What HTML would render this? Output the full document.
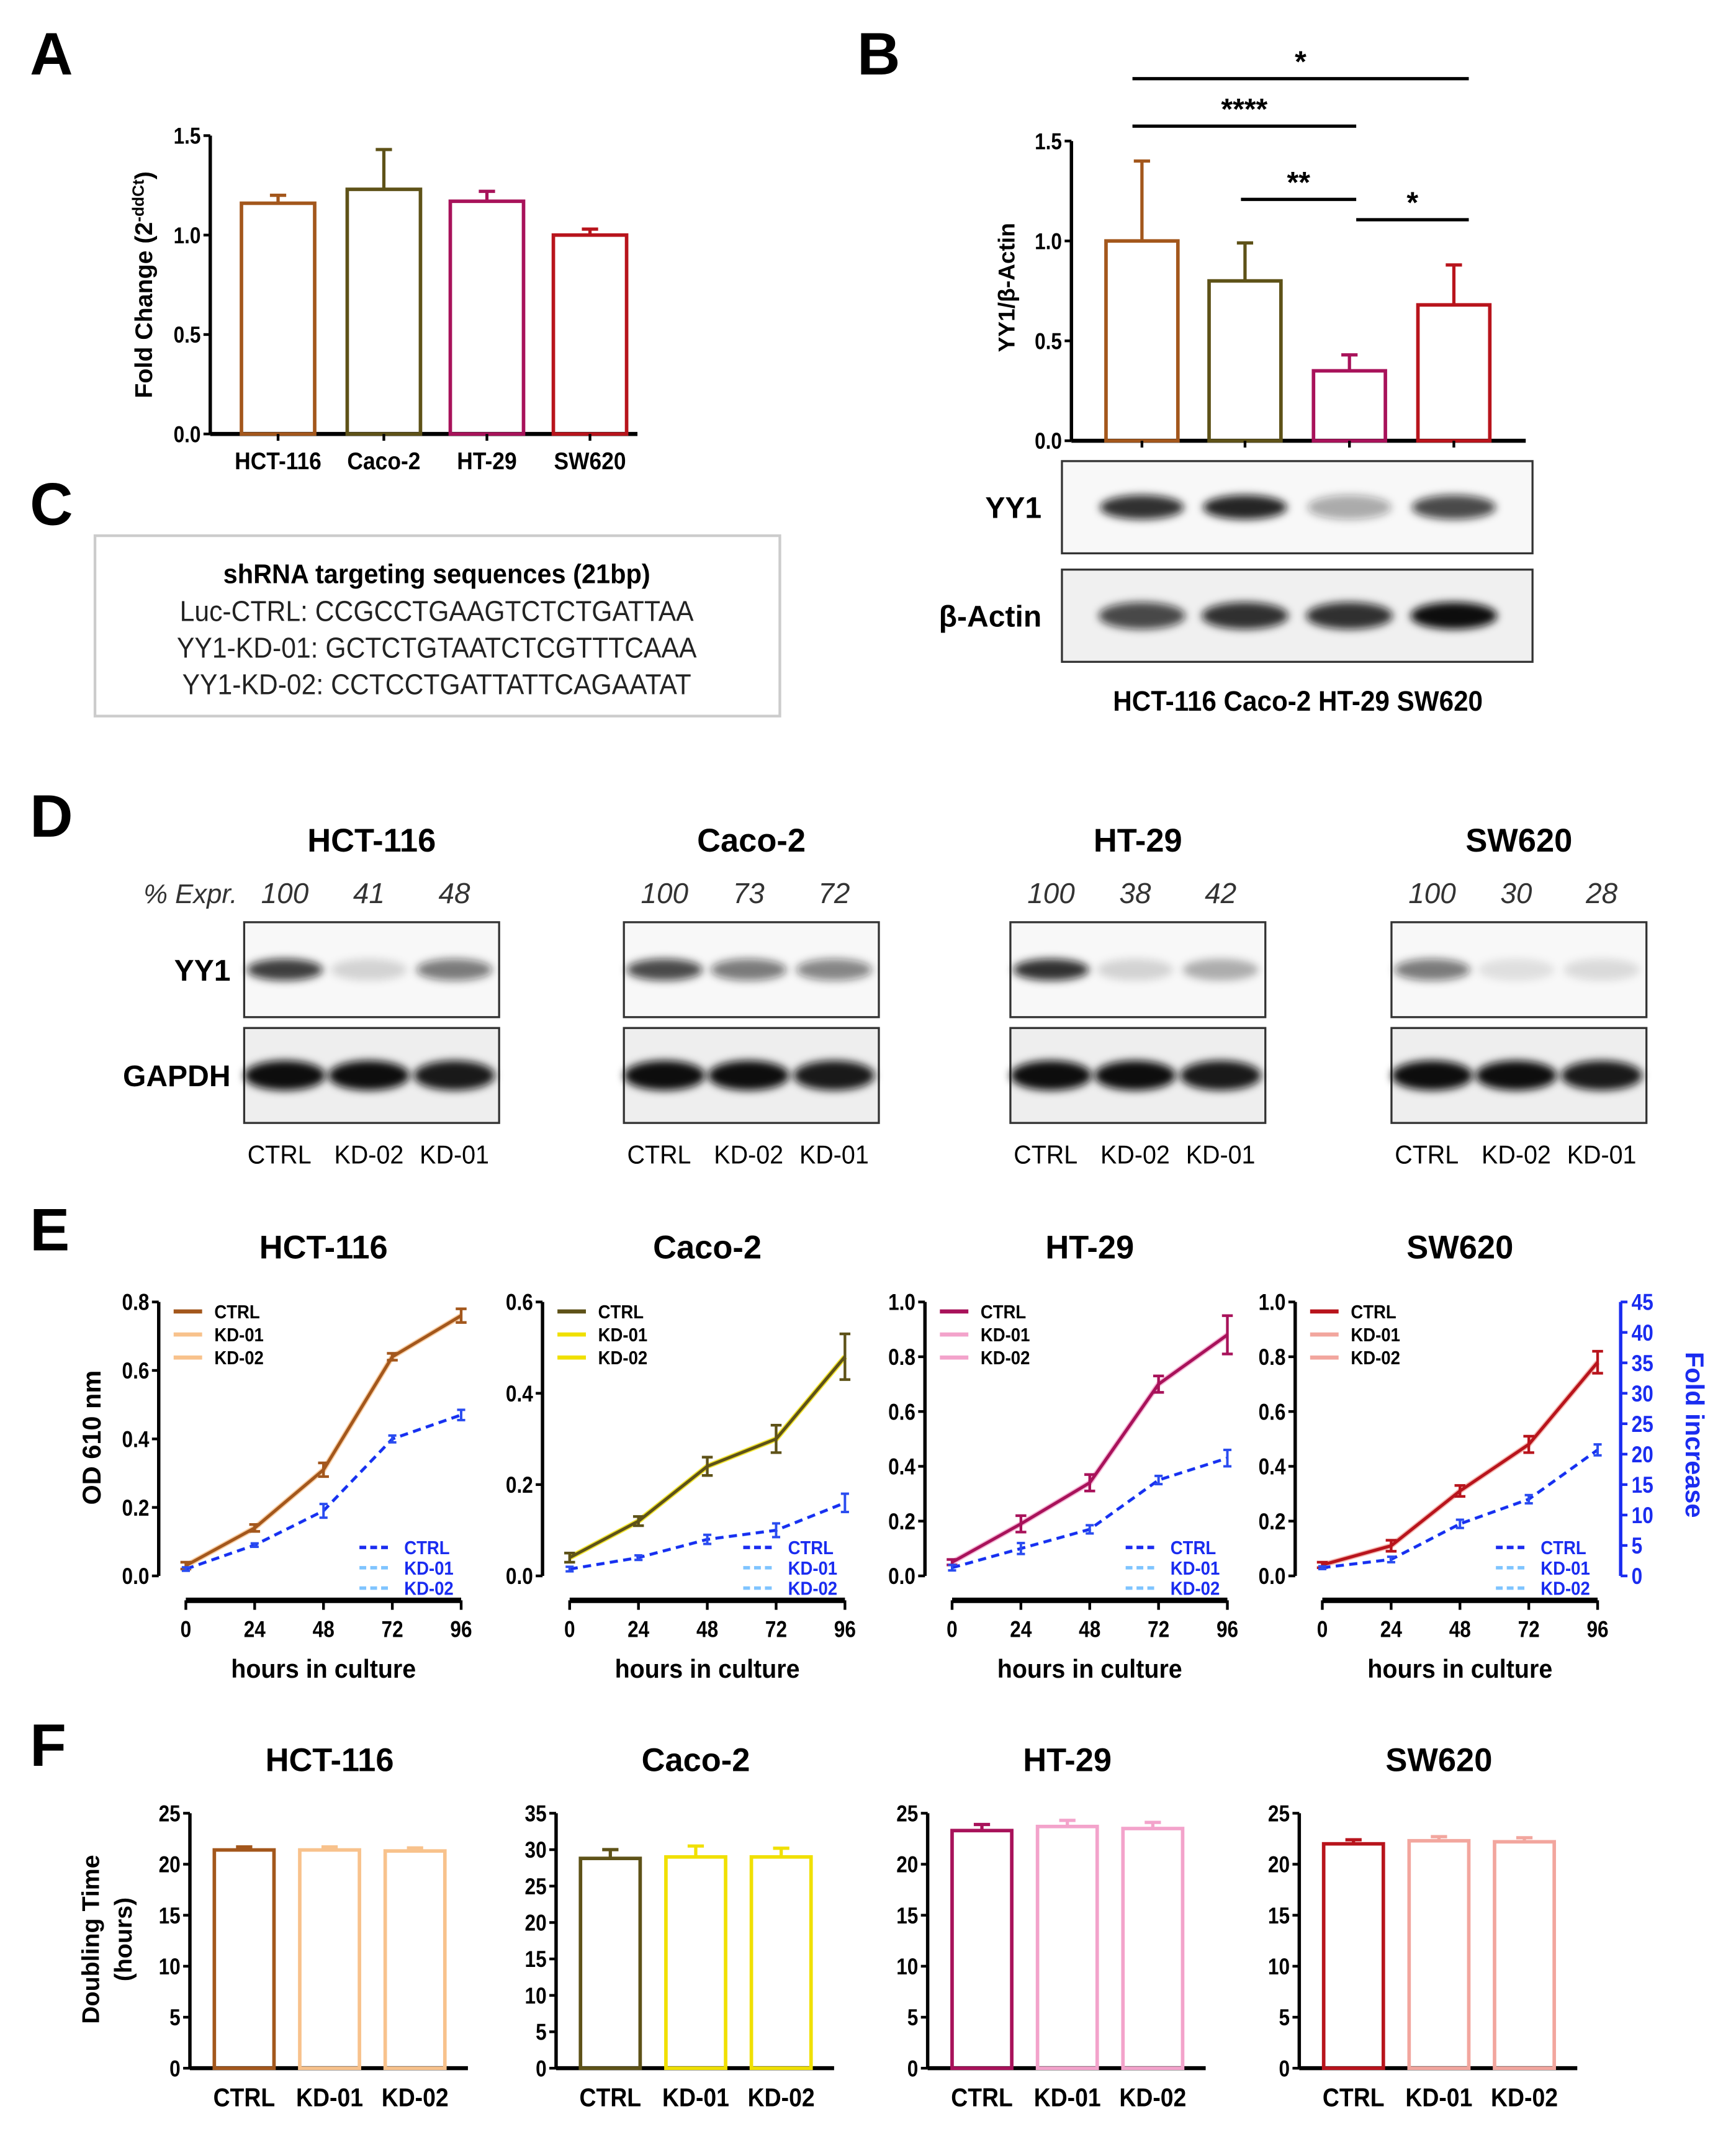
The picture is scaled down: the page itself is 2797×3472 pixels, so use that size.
<!DOCTYPE html>
<html><head><meta charset="utf-8"><style>
html,body{margin:0;padding:0;background:#fff}
svg{display:block}
text{font-family:"Liberation Sans",sans-serif}
</style></head><body>
<svg id="fig" width="2797" height="3472" viewBox="0 0 1280 1589" xmlns="http://www.w3.org/2000/svg">
<defs>
<filter id="blur" x="-20%" y="-60%" width="140%" height="220%"><feGaussianBlur stdDeviation="3"/></filter>
</defs>
<g id="root"></g>
</svg>
<script>
// ---------- data ----------
const cellLines = ["HCT-116","Caco-2","HT-29","SW620"];
const aValues = [1.16,1.23,1.17,1.00];
const aErrors = [0.04,0.20,0.05,0.03];
const bValues = [1.00,0.80,0.35,0.68];
const bErrors = [0.40,0.19,0.08,0.20];
const aTicks = [0,0.5,1.0,1.5];
const bYY1 = [0.85,0.9,0.35,0.75];
const bActin = [0.75,0.85,0.85,1.0];
const dExpr = [[100,41,48],[100,73,72],[100,38,42],[100,30,28]];
const dLanes = ["CTRL","KD-02","KD-01"];
const hours = [0,24,48,72,96];
const eCtrl = [[0.03,0.14,0.31,0.64,0.76],[0.04,0.12,0.24,0.30,0.48],[0.05,0.19,0.34,0.70,0.88],[0.04,0.11,0.31,0.48,0.78]];
const eCtrlErr = [[0.01,0.01,0.02,0.01,0.02],[0.01,0.01,0.02,0.03,0.05],[0.01,0.03,0.03,0.03,0.07],[0.01,0.02,0.02,0.03,0.04]];
const eKD = [[0.02,0.09,0.19,0.40,0.47],[0.015,0.04,0.08,0.10,0.16],[0.03,0.10,0.17,0.35,0.43],[0.03,0.06,0.19,0.28,0.46]];
const eKDErr = [[0.005,0.005,0.02,0.01,0.015],[0.005,0.005,0.01,0.015,0.02],[0.01,0.02,0.015,0.015,0.03],[0.005,0.01,0.015,0.015,0.02]];
const eYMax = [0.8,0.6,1.0,1.0];
const eTicks = [[0,0.2,0.4,0.6,0.8],[0,0.2,0.4,0.6],[0,0.2,0.4,0.6,0.8,1.0],[0,0.2,0.4,0.6,0.8,1.0]];
const foldTicks = [0,5,10,15,20,25,30,35,40,45];
const fValues = [[21.4,21.4,21.3],[28.8,29.0,29.0],[23.3,23.7,23.5],[22.0,22.3,22.2]];
const fErrors = [[0.3,0.3,0.3],[1.2,1.5,1.2],[0.6,0.6,0.6],[0.4,0.4,0.4]];
const fYMax = [25,35,25,25];
const fTicks = [[0,5,10,15,20,25],[0,5,10,15,20,25,30,35],[0,5,10,15,20,25],[0,5,10,15,20,25]];
const fLabels = ["CTRL","KD-01","KD-02"];

const dark = ["#a3571c","#5e5218","#a8125a","#b8141c"];
const light = ["#f8c28c","#f0e000","#f3a3cb","#f2a69e"];

const NS="http://www.w3.org/2000/svg";
const root=document.getElementById('root');
function el(tag,attrs,parent,txt){const e=document.createElementNS(NS,tag);for(const k in attrs)e.setAttribute(k,attrs[k]);if(txt!==undefined)e.textContent=txt;(parent||root).appendChild(e);return e;}
function T(x,y,s,size,opts,parent){opts=opts||{};const t=el('text',{x:x,y:y,'font-size':size,'font-weight':opts.w||'bold','text-anchor':opts.a||'middle',fill:opts.fill||'#000','font-style':opts.i?'italic':'normal'},parent,s);if(opts.rot)t.setAttribute('transform',`rotate(-90 ${x} ${y})`);if(opts.sx)t.setAttribute('transform',`translate(${x} ${y}) scale(${opts.sx} 1) translate(${-x} ${-y})`);return t;}
function fmt(v,d){return v.toFixed(d);}

[["A",22,55],["B",632,55],["C",22,387],["D",22,617],["E",22,922],["F",22,1302]].forEach(p=>{
 const t=T(p[1],p[2],p[0],44,{a:'start'});
 
 
});

function barChart(g,cfg){
 const ys=v=>cfg.y0-(v/cfg.ymax)*(cfg.y0-cfg.y1);
 el('line',{x1:cfg.ax,y1:cfg.y1,x2:cfg.ax,y2:cfg.y0,stroke:'#000','stroke-width':2.5},g);
 el('line',{x1:cfg.ax,y1:cfg.y0,x2:cfg.xend,y2:cfg.y0,stroke:'#000','stroke-width':3},g);
 cfg.ticks.forEach(tv=>{const y=ys(tv);el('line',{x1:cfg.ax-5,y1:y,x2:cfg.ax,y2:y,stroke:'#000','stroke-width':2},g);
   T(cfg.ax-7,y+6,cfg.dec===0?String(tv):fmt(tv,cfg.dec),cfg.tfs||17,{a:'end',sx:0.85},g);});
 cfg.values.forEach((v,i)=>{
   const cx=cfg.cx[i],w=cfg.bw,col=cfg.colors[i];
   const bar=el('rect',{x:cx-w/2,y:ys(v),width:w,height:cfg.y0-ys(v),fill:'none',stroke:col,'stroke-width':2.6},g);
   
   
   const ye=ys(v+cfg.err[i]);
   el('line',{x1:cx,y1:ys(v),x2:cx,y2:ye,stroke:col,'stroke-width':2.4},g);
   el('line',{x1:cx-6,y1:ye,x2:cx+6,y2:ye,stroke:col,'stroke-width':2.4},g);
   if(cfg.xticks) el('line',{x1:cx,y1:cfg.y0,x2:cx,y2:cfg.y0+5,stroke:'#000','stroke-width':2},g);
   if(cfg.labels) T(cx,cfg.ly,cfg.labels[i],cfg.lfs||18,{sx:0.9},g);
 });
 return ys;
}

// Panel A
const gA=el('g',{});
barChart(gA,{ax:155,y0:320,y1:100,ymax:1.5,xend:470,ticks:aTicks,dec:1,values:aValues,err:aErrors,cx:[205,283,359,435],bw:54,colors:dark,labels:cellLines,ly:346,lfs:18,xticks:true});
{const t=T(112,210,"Fold Change (2",18,{rot:true},gA);
 el('tspan',{'font-size':12,dy:-6},t,"-ddCt");el('tspan',{dy:6,'font-size':18},t,")");}

// Panel B
const gB=el('g',{});
barChart(gB,{ax:790,y0:325,y1:104,ymax:1.5,xend:1125,ticks:aTicks,dec:1,values:bValues,err:bErrors,cx:[842,918,995,1072],bw:53,colors:dark,xticks:true});
{const t=T(748,212,"YY1/β-Actin",17,{rot:true},gB);}
[[835,1083,58,"*"],[835,1000,93,"****"],[915,1000,147,"**"],[1000,1083,162,"*"]].forEach((s,i)=>{
 el('line',{x1:s[0],y1:s[2],x2:s[1],y2:s[2],stroke:'#000','stroke-width':2.4},gB);
 const t=T((s[0]+s[1])/2,s[2]-5,s[3],22,{},gB);
});
function blot(g,x,y,w,h,centers,intens,bw,bh,name,label,lx,lfs,bgc){
 const b=el('g',{},g);
 el('rect',{x:x,y:y,width:w,height:h,fill:bgc||'#f8f8f8',stroke:'#333','stroke-width':1.5},b);
 centers.forEach((c,i)=>{const a=intens[i];
  el('ellipse',{cx:c,cy:y+h/2,rx:bw/2,ry:bh/2,fill:'#111','fill-opacity':a,filter:'url(#blur)'},b);});
 if(label) T(lx,y+h/2+8,label,lfs,{a:'end'},g);
}
blot(gB,783,340,347,68,[842,918,995,1072],bYY1,62,18,'blot-yy1',"YY1",768,22);
blot(gB,783,420,347,68,[842,918,995,1072],bActin,64,20,'blot-beta-actin',"β-Actin",768,22,'#f0f0f0');
{const t=T(957,524,"HCT-116 Caco-2 HT-29 SW620",21,{sx:0.92},gB);}

// Panel C
const gC=el('g',{});
el('rect',{x:70,y:395,width:505,height:133,fill:'#fff',stroke:'#ccc','stroke-width':2},gC);
T(322,430,"shRNA targeting sequences (21bp)",20,{sx:0.95},gC);
T(322,458,"Luc-CTRL: CCGCCTGAAGTCTCTGATTAA",21,{w:'normal',fill:'#222',sx:0.93},gC);
T(322,485,"YY1-KD-01: GCTCTGTAATCTCGTTTCAAA",21,{w:'normal',fill:'#222',sx:0.93},gC);
T(322,512,"YY1-KD-02: CCTCCTGATTATTCAGAATAT",21,{w:'normal',fill:'#222',sx:0.93},gC);

// Panel D
const dBox=[180,460,745,1026];
const dYY1=[[0.8,0.15,0.55],[0.75,0.55,0.5],[0.85,0.15,0.3],[0.55,0.1,0.12]];
dBox.forEach((bx,gi)=>{
 const g=el('g',{});
 const w=188, lanes=[bx+30,bx+92,bx+155];
 T(bx+w/2,628,cellLines[gi],24,{},g);
 dExpr[gi].forEach((v,i)=>T(lanes[i],666,String(v),21,{w:'normal',i:true,fill:'#333'},g));
 if(gi===0) T(175,666,"% Expr.",20,{w:'normal',i:true,a:'end',fill:'#333'},g);
 blot(g,bx,680,w,70,lanes,dYY1[gi],56,16,'blot-yy1-'+gi,gi===0?"YY1":null,170,22);
 blot(g,bx,758,w,70,lanes,[1,1,0.95],60,22,'blot-gapdh-'+gi,gi===0?"GAPDH":null,170,22,'#eeeeee');
 dLanes.forEach((l,i)=>T(lanes[i]+(i===0?-4:0),858,l,19,{w:'normal',sx:0.95},g));
});

// Panel E
const eAx=[117,400,682,955];
eAx.forEach((ax,gi)=>{
 const g=el('g',{});
 const x0=ax+20,x1=ax+223,y0=1162,y1=960,ymax=eYMax[gi];
 const xs=h=>x0+(h/96)*(x1-x0), ys=v=>y0-(v/ymax)*(y0-y1);
 T((x0+x1)/2,928,cellLines[gi],24,{},g);
 el('line',{x1:ax,y1:y1,x2:ax,y2:y0,stroke:'#000','stroke-width':2.5},g);
 eTicks[gi].forEach(tv=>{const y=ys(tv);el('line',{x1:ax-5,y1:y,x2:ax,y2:y,stroke:'#000','stroke-width':2},g);T(ax-7,y+6,fmt(tv,1),17,{a:'end',sx:0.85},g);});
 el('line',{x1:x0,y1:1180,x2:x1,y2:1180,stroke:'#000','stroke-width':4},g);
 hours.forEach(h=>{el('line',{x1:xs(h),y1:1180,x2:xs(h),y2:1187,stroke:'#000','stroke-width':2},g);T(xs(h),1207,String(h),17,{sx:0.85},g);});
 T((x0+x1)/2,1237,"hours in culture",19,{sx:0.95},g);
 const ptsC=hours.map((h,i)=>xs(h)+','+ys(eCtrl[gi][i])).join(' ');
 const kl=el('polyline',{points:ptsC,fill:'none',stroke:light[gi],'stroke-width':4,'stroke-opacity':0.8},g);
 
 const pl=el('polyline',{points:ptsC,fill:'none',stroke:dark[gi],'stroke-width':2.3},g);
 
 hours.forEach((h,i)=>{const v=eCtrl[gi][i],e=eCtrlErr[gi][i],x=xs(h);
  el('line',{x1:x,y1:ys(v-e),x2:x,y2:ys(v+e),stroke:dark[gi],'stroke-width':2},g);
  el('line',{x1:x-4,y1:ys(v+e),x2:x+4,y2:ys(v+e),stroke:dark[gi],'stroke-width':2},g);
  el('line',{x1:x-4,y1:ys(v-e),x2:x+4,y2:ys(v-e),stroke:dark[gi],'stroke-width':2},g);});
 const ptsK=hours.map((h,i)=>xs(h)+','+ys(eKD[gi][i])).join(' ');
 el('polyline',{points:ptsK,fill:'none',stroke:'#7fc4ff','stroke-width':2.5,'stroke-dasharray':'6 4'},g);
 const bl=el('polyline',{points:ptsK,fill:'none',stroke:'#1a2cf0','stroke-width':2,'stroke-dasharray':'6 4'},g);
 
 hours.forEach((h,i)=>{const v=eKD[gi][i],e=eKDErr[gi][i],x=xs(h);
  el('line',{x1:x,y1:ys(v-e),x2:x,y2:ys(v+e),stroke:'#2a4cf0','stroke-width':1.8},g);
  el('line',{x1:x-3,y1:ys(v+e),x2:x+3,y2:ys(v+e),stroke:'#2a4cf0','stroke-width':1.8},g);
  el('line',{x1:x-3,y1:ys(v-e),x2:x+3,y2:ys(v-e),stroke:'#2a4cf0','stroke-width':1.8},g);});
 const lg=el('g',{},g);
 ["CTRL","KD-01","KD-02"].forEach((s,i)=>{const y=967+i*17;
  el('line',{x1:ax+11,y1:y,x2:ax+32,y2:y,stroke:i===0?dark[gi]:light[gi],'stroke-width':3},lg);
  T(ax+41,y+5,s,14,{a:'start',sx:0.9},lg);});
 const lb=el('g',{},g);
 ["CTRL","KD-01","KD-02"].forEach((s,i)=>{const y=1141+i*15;
  el('line',{x1:ax+148,y1:y,x2:ax+172,y2:y,stroke:i===0?'#1a2cf0':'#7fc4ff','stroke-width':2.5,'stroke-dasharray':'5 3'},lb);
  T(ax+181,y+5,s,14,{a:'start',fill:'#1a2cf0',sx:0.9},lb);});
 if(gi===0){const t=T(74,1060,"OD 610 nm",19,{rot:true},g);}
 if(gi===3){const rx=1195;const fy=v=>y0-(v/45)*(y0-y1);
  el('line',{x1:rx,y1:y1,x2:rx,y2:y0,stroke:'#1a2cf0','stroke-width':2.5},g);
  foldTicks.forEach(tv=>{const y=fy(tv);el('line',{x1:rx,y1:y,x2:rx+5,y2:y,stroke:'#1a2cf0','stroke-width':2},g);T(rx+8,y+6,String(tv),17,{a:'start',fill:'#1a2cf0',sx:0.85},g);});
  const t=T(1243,1058,"Fold increase",19,{fill:'#1a2cf0'},g);t.setAttribute('transform','rotate(90 1243 1058)');
  }
});

// Panel F
const fAx=[140,410,684,958];
fAx.forEach((ax,gi)=>{
 const g=el('g',{});
 const cx=[ax+40,ax+103,ax+166];
 barChart(g,{ax:ax,y0:1525,y1:1337,ymax:fYMax[gi],xend:ax+205,ticks:fTicks[gi],dec:0,values:fValues[gi],err:fErrors[gi],cx:cx,bw:44,colors:[dark[gi],light[gi],light[gi]],labels:fLabels,ly:1553,lfs:19,tfs:17});
 T(ax+103,1306,cellLines[gi],24,{},g);
 if(gi===0){const t=T(73,1430,"Doubling Time",18,{rot:true},g);T(97,1430,"(hours)",18,{rot:true},g);}
});
</script>
</body></html>
